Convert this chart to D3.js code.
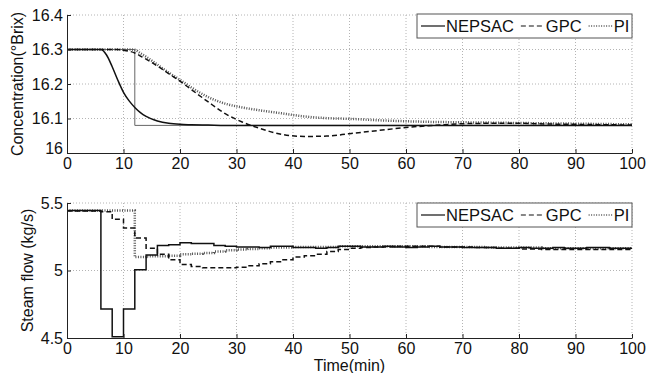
<!DOCTYPE html>
<html>
<head>
<meta charset="utf-8">
<script src="https://cdn.jsdelivr.net/npm/d3@7"></script>
<style>
body { margin: 0; background: #fff; }
svg { display: block; font-family: "Liberation Sans", Arial, sans-serif; }
</style>
</head>
<body>
<div id="chart"></div>
<script>
// Data
const seriesNames = ["NEPSAC", "GPC", "PI"];
const timeTicks = [0, 10, 20, 30, 40, 50, 60, 70, 80, 90, 100];

// concentration (°Brix)
const concTime    = [0, 6, 7, 8, 9, 10, 11, 12, 13, 14, 16, 18, 20, 22, 25, 28, 31, 34, 38, 42, 46, 50, 55, 60, 65, 70, 75, 80, 85, 90, 95, 100];
const concNepsac  = [16.3, 16.3, 16.284, 16.25, 16.211, 16.176, 16.151, 16.132, 16.117, 16.106, 16.093, 16.086, 16.083, 16.082, 16.081, 16.08, 16.08, 16.08, 16.08, 16.08, 16.08, 16.08, 16.08, 16.08, 16.08, 16.08, 16.08, 16.08, 16.08, 16.08, 16.08, 16.08];
const concGpc     = [16.3, 16.3, 16.3, 16.3, 16.3, 16.298, 16.295, 16.29, 16.281, 16.272, 16.252, 16.23, 16.208, 16.184, 16.148, 16.114, 16.09, 16.072, 16.054, 16.048, 16.049, 16.056, 16.065, 16.074, 16.08, 16.085, 16.086, 16.086, 16.084, 16.083, 16.082, 16.081];
const concPi      = [16.3, 16.3, 16.3, 16.3, 16.3, 16.3, 16.3, 16.299, 16.289, 16.279, 16.256, 16.233, 16.212, 16.19, 16.162, 16.143, 16.132, 16.124, 16.115, 16.106, 16.101, 16.099, 16.095, 16.092, 16.09, 16.089, 16.088, 16.087, 16.086, 16.085, 16.084, 16.083];
const setpointTime  = [0, 12, 12, 100];
const setpointValue = [16.3, 16.3, 16.08, 16.08];
const concTicks = [16, 16.1, 16.2, 16.3, 16.4];
const concTickLabels = ["16", "16.1", "16.2", "16.3", "16.4"];

// steam flow (kg/s), sampled every 2 min
const flowTime   = [0, 2, 4, 6, 8, 10, 12, 14, 16, 18, 20, 22, 24, 26, 28, 30, 32, 34, 36, 38, 40, 42, 44, 46, 48, 50, 52, 54, 56, 58, 60, 62, 64, 66, 68, 70, 72, 74, 76, 78, 80, 82, 84, 86, 88, 90, 92, 94, 96, 98, 100];
const flowNepsac = [5.445, 5.445, 5.445, 4.715, 4.51, 4.715, 5.005, 5.115, 5.185, 5.19, 5.205, 5.2, 5.2, 5.185, 5.18, 5.175, 5.175, 5.17, 5.18, 5.18, 5.17, 5.17, 5.165, 5.17, 5.18, 5.18, 5.175, 5.175, 5.18, 5.175, 5.17, 5.175, 5.18, 5.175, 5.175, 5.17, 5.17, 5.17, 5.165, 5.165, 5.17, 5.165, 5.165, 5.17, 5.165, 5.165, 5.17, 5.17, 5.165, 5.165, 5.165];
const flowGpc    = [5.44, 5.44, 5.44, 5.435, 5.38, 5.315, 5.24, 5.165, 5.12, 5.08, 5.045, 5.03, 5.02, 5.02, 5.02, 5.025, 5.035, 5.05, 5.065, 5.08, 5.1, 5.11, 5.12, 5.14, 5.155, 5.165, 5.17, 5.175, 5.175, 5.18, 5.18, 5.18, 5.18, 5.175, 5.175, 5.175, 5.17, 5.17, 5.165, 5.165, 5.16, 5.16, 5.155, 5.155, 5.155, 5.155, 5.155, 5.155, 5.155, 5.155, 5.155];
const flowPi     = [5.445, 5.445, 5.445, 5.445, 5.445, 5.445, 5.1, 5.105, 5.105, 5.11, 5.12, 5.125, 5.13, 5.14, 5.15, 5.155, 5.16, 5.165, 5.17, 5.17, 5.175, 5.175, 5.175, 5.175, 5.18, 5.18, 5.18, 5.18, 5.18, 5.18, 5.18, 5.18, 5.175, 5.175, 5.175, 5.175, 5.175, 5.17, 5.17, 5.17, 5.17, 5.17, 5.165, 5.165, 5.165, 5.165, 5.165, 5.165, 5.165, 5.165, 5.165];
const flowTicks = [4.5, 5, 5.5];
const flowTickLabels = ["4.5", "5", "5.5"];

// line styles per series
const styles = [
    { stroke: "#111", width: 1.5, dash: null },
    { stroke: "#111", width: 1.5, dash: "5,3" },
    { stroke: "#555", width: 2.5, dash: "1,1.5" }
];

function createChart() {
    const W = 653, H = 373;
    const left = 67, right = 632;

    const svg = d3.select("#chart").append("svg")
        .attr("width", W)
        .attr("height", H);

    const x = d3.scaleLinear().domain([0, 100]).range([left, right]);

    function drawPanel(p) {
        const y = d3.scaleLinear().domain(p.domain).range([p.bottom, p.top]);
        const g = svg.append("g");

        // grid
        g.append("g").selectAll("line").data(timeTicks.slice(1)).join("line")
            .attr("x1", d => x(d)).attr("x2", d => x(d))
            .attr("y1", p.top).attr("y2", p.bottom)
            .attr("stroke", "#b4b4b4").attr("stroke-dasharray", "1,2");
        g.append("g").selectAll("line").data(p.ticks.slice(1)).join("line")
            .attr("x1", left).attr("x2", right)
            .attr("y1", d => y(d)).attr("y2", d => y(d))
            .attr("stroke", "#b4b4b4").attr("stroke-dasharray", "1,2");

        const line = d3.line().x(d => x(d[0])).y(d => y(d[1])).curve(p.curve);

        if (p.setpoint) {
            g.append("path")
                .datum(d3.zip(setpointTime, setpointValue))
                .attr("fill", "none").attr("stroke", "#666").attr("stroke-width", 1)
                .attr("d", d3.line().x(d => x(d[0])).y(d => y(d[1])));
        }

        // series drawn PI first so solid sits on top
        [2, 1, 0].forEach(i => {
            g.append("path")
                .datum(d3.zip(p.time, p.series[i]))
                .attr("fill", "none")
                .attr("stroke", styles[i].stroke)
                .attr("stroke-width", styles[i].width)
                .attr("stroke-dasharray", styles[i].dash)
                .attr("d", line);
        });

        // axes
        const xAxis = g.append("g")
            .attr("transform", `translate(0,${p.bottom})`)
            .call(d3.axisBottom(x).tickValues(timeTicks).tickFormat(d3.format("d"))
                .tickSizeInner(-4).tickSizeOuter(0).tickPadding(5));
        const yAxis = g.append("g")
            .attr("transform", `translate(${left},0)`)
            .call(d3.axisLeft(y).tickValues(p.ticks).tickFormat((d, i) => p.labels[i])
                .tickSizeInner(-4).tickSizeOuter(0).tickPadding(4));
        [xAxis, yAxis].forEach(a => {
            a.selectAll("text").attr("font-size", 16).attr("fill", "#111")
                .attr("font-family", "Liberation Sans, Arial, sans-serif");
            a.select(".domain").attr("stroke", "#222");
            a.selectAll(".tick line").attr("stroke", "#222");
        });
        if (p.shiftBottomLabel) {
            yAxis.selectAll(".tick text").filter(d => d === p.domain[0]).attr("dy", "0em");
        }

        // y label
        svg.append("text")
            .attr("transform", `translate(${p.labelX},${(p.top + p.bottom) / 2}) rotate(-90)`)
            .attr("text-anchor", "middle")
            .attr("font-size", 16)
            .attr("fill", "#111")
            .text(p.ylabel);

        drawLegend(p.legendTop);
    }

    function drawLegend(top) {
        const lg = svg.append("g");
        lg.append("rect")
            .attr("x", 417).attr("y", top).attr("width", right - 417).attr("height", 24)
            .attr("fill", "#fff").attr("stroke", "#555").attr("stroke-width", 1);
        let cx = 421;
        seriesNames.forEach((name, i) => {
            lg.append("line")
                .attr("x1", cx).attr("x2", cx + 24)
                .attr("y1", top + 12).attr("y2", top + 12)
                .attr("stroke", styles[i].stroke)
                .attr("stroke-width", i === 2 ? 1.5 : 1.2)
                .attr("stroke-dasharray", i === 2 ? "1,1.5" : styles[i].dash);
            const t = lg.append("text")
                .attr("x", cx + 25).attr("y", top + 18)
                .attr("font-size", 16.5).attr("fill", "#111")
                .text(name);
            cx += 25 + t.node().getComputedTextLength() + 7;
        });
    }

    drawPanel({
        top: 15, bottom: 153, domain: [16, 16.4],
        ticks: concTicks, labels: concTickLabels,
        time: concTime, series: [concNepsac, concGpc, concPi],
        curve: d3.curveMonotoneX, setpoint: true, shiftBottomLabel: true,
        ylabel: "Concentration(°Brix)", labelX: 23, legendTop: 14
    });

    drawPanel({
        top: 203, bottom: 338, domain: [4.5, 5.5],
        ticks: flowTicks, labels: flowTickLabels,
        time: flowTime, series: [flowNepsac, flowGpc, flowPi],
        curve: d3.curveStepAfter, setpoint: false, shiftBottomLabel: false,
        ylabel: "Steam flow (kg/s)", labelX: 33, legendTop: 203
    });

    svg.append("text")
        .attr("x", (left + right) / 2)
        .attr("y", 371)
        .attr("text-anchor", "middle")
        .attr("font-size", 16)
        .attr("fill", "#111")
        .text("Time(min)");
}

createChart();
</script>
</body>
</html>
